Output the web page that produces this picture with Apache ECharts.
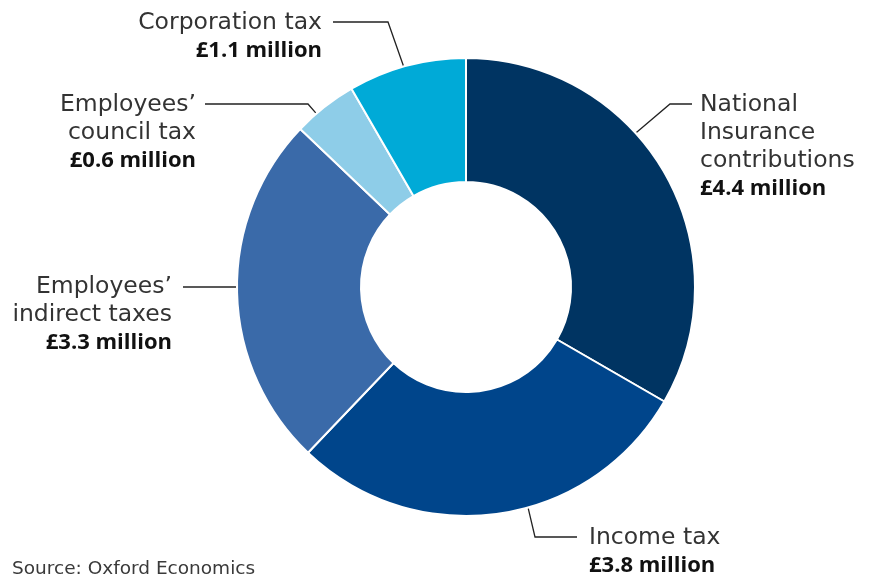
<!DOCTYPE html>
<html>
<head>
<meta charset="utf-8">
<script src="https://cdn.jsdelivr.net/npm/echarts@6/dist/echarts.min.js"></script>
<style>
  html, body { margin: 0; padding: 0; background: #ffffff; }
  #chart { width: 871px; height: 577px; }
</style>
</head>
<body>
<div id="chart"></div>
<script>
// Tax contributions, £ million
const categories = [
  'National\nInsurance\ncontributions',
  'Income tax',
  'Employees’\nindirect taxes',
  'Employees’\ncouncil tax',
  'Corporation tax'
];
const values = [4.4, 3.8, 3.3, 0.6, 1.1];
const colors = ['#003462', '#00458b', '#3a6aa9', '#8ecde8', '#00aad7'];
const sourceText = 'Source: Oxford Economics';

const CX = 466, CY = 287, R_IN = 105, R_OUT = 229;
const NAME_FONT = '"DejaVu Sans", sans-serif';
const VALUE_FONT = '"Open Sans", sans-serif';

// Leader line and label placement for each slice
const callouts = [
  { angle: 47.8,  elbow: [670, 104], end: [692, 104], x: 700, y: 91,  align: 'left'  },
  { angle: 164.3, elbow: [535, 537], end: [577, 537], x: 589, y: 524, align: 'left'  },
  { angle: 270,   elbow: [210, 287], end: [183, 287], x: 172, y: 273, align: 'right' },
  { angle: 319.2, elbow: [308, 104], end: [205, 104], x: 196, y: 91,  align: 'right' },
  { angle: 344.2, elbow: [388, 22],  end: [333, 22],  x: 322, y: 9,   align: 'right' }
];

function ringPoint(deg) {
  const a = deg * Math.PI / 180;
  return [CX + (R_OUT + 1) * Math.sin(a), CY - (R_OUT + 1) * Math.cos(a)];
}

function labelText(name, value) {
  const lines = name.split('\n').map(l => '{n|' + l + '}');
  lines.push('{v|£' + value.toFixed(1) + ' million}');
  return lines.join('\n');
}

const chart = echarts.init(document.getElementById('chart'), null, { renderer: 'canvas' });

chart.setOption({
  backgroundColor: '#ffffff',
  animation: false,
  graphic: [{
    type: 'text',
    left: 12,
    top: 560,
    style: { text: sourceText, font: '18.5px ' + NAME_FONT, fill: '#3a3a3a' }
  }],
  series: [{
    type: 'pie',
    center: [CX, CY],
    radius: [R_IN, R_OUT],
    startAngle: 90,
    clockwise: true,
    avoidLabelOverlap: false,
    itemStyle: { borderColor: '#ffffff', borderWidth: 2 },
    label: {
      show: true,
      position: 'outside',
      formatter: p => labelText(p.name, p.value),
      rich: {
        n: { fontFamily: NAME_FONT, fontSize: 23.5, lineHeight: 28, color: '#333333' },
        v: { fontFamily: VALUE_FONT, fontSize: 22, lineHeight: 28, fontWeight: 'bold', color: '#111111' }
      }
    },
    labelLine: {
      show: true,
      lineStyle: { color: '#222222', width: 1.3 }
    },
    labelLayout: function (params) {
      const c = callouts[params.dataIndex];
      return {
        x: c.x,
        y: c.y,
        align: c.align,
        verticalAlign: 'top',
        labelLinePoints: [ringPoint(c.angle), c.elbow, c.end]
      };
    },
    emphasis: { disabled: true },
    data: categories.map((name, i) => ({
      name: name,
      value: values[i],
      itemStyle: { color: colors[i] },
      label: { align: callouts[i].align }
    }))
  }]
});
</script>
</body>
</html>
